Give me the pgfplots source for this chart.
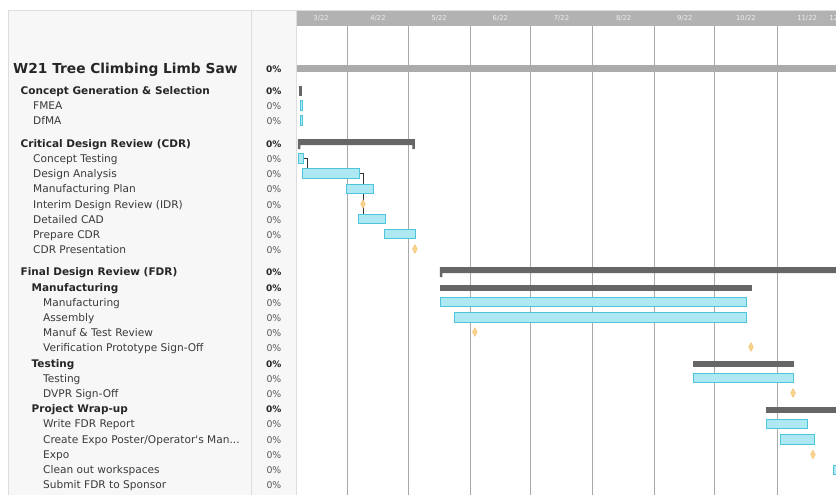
\documentclass[border=0pt]{standalone}
\usepackage{fontspec}
\setmainfont{DejaVu Sans}
\usepackage{pgfplots}
\pgfplotsset{compat=1.18}
\definecolor{taskfill}{HTML}{AEE8F3}
\definecolor{taskdraw}{HTML}{4DC5DA}
\definecolor{sumgrey}{HTML}{666666}
\definecolor{titlegrey}{HTML}{ABABAB}
\definecolor{hdrgrey}{HTML}{B2B2B2}
\definecolor{gridgrey}{HTML}{A8A8A8}
\definecolor{panel}{HTML}{F7F7F7}
\definecolor{panelline}{HTML}{DDDDDD}
\definecolor{msfill}{HTML}{F9D48F}
\definecolor{msdraw}{HTML}{F2C375}
\definecolor{lbl}{HTML}{3A3A3A}
\definecolor{lblb}{HTML}{262626}
\definecolor{pct}{HTML}{555555}
\begin{document}
\begin{tikzpicture}[
  task/.style={fill=taskfill, draw=taskdraw, line width=0.8pt},
  summ/.style={fill=sumgrey, draw=none},
  lab/.style={anchor=base west, text=lbl, font=\fontsize{10.6}{12}\selectfont, inner sep=0pt},
  labb/.style={anchor=base west, text=lblb, font=\fontsize{10.5}{12}\selectfont\bfseries, inner sep=0pt},
  pc/.style={anchor=base east, text=pct, font=\fontsize{9.3}{11}\selectfont, inner sep=0pt},
  pcb/.style={anchor=base east, text=lblb, font=\fontsize{9}{11}\selectfont\bfseries, inner sep=0pt},
  mon/.style={anchor=base, text=white!93!black, font=\fontsize{6.8}{8}\selectfont, inner sep=0pt}
]
\begin{axis}[
  name=ax, at={(0pt,0pt)}, anchor=south west,
  scale only axis, width=539pt, height=484pt,
  xmin=5.6, xmax=274.4, ymin=11, ymax=495, y dir=reverse,
  axis line style={draw=none}, tick style={draw=none},
  xtick={31,61,92,122,153,184,214,245}, xticklabels={}, ytick=\empty,
  xmajorgrids, major grid style={gridgrey, line width=0.9pt},
  clip mode=individual,
]
% header band
\addplot[fill=hdrgrey, draw=none] coordinates {(5.6,11) (274.4,11) (274.4,26) (5.6,26)} --cycle;
% project bar
\addplot[fill=titlegrey, draw=none] coordinates {(5.6,65) (290,65) (290,72) (5.6,72)} --cycle;
% Concept Generation & Selection
\addplot[summ] coordinates {(6.56,86) (8.06,86) (8.06,96) (6.56,96)} --cycle;
\addplot[task] coordinates {(7.06,100) (8.06,100) (8.06,110) (7.06,110)} --cycle;
\addplot[task] coordinates {(7.06,115) (8.06,115) (8.06,125) (7.06,125)} --cycle;
% CDR
\addplot[summ] coordinates {(6.06,139) (64.4,139) (64.4,149) (63.2,149) (63.2,145) (7.3,145) (7.3,149) (6.06,149)} --cycle;
% connectors
\addplot[draw=black!80, line width=0.7pt] coordinates {(8.56,158) (10.55,158) (10.55,168.7)};
\addplot[draw=black!80, line width=0.7pt] coordinates {(36.49,173.3) (38.5,173.3) (38.5,184)};
\addplot[draw=black!80, line width=0.7pt] coordinates {(38.5,193) (38.5,214)};
\addplot[task] coordinates {(6.06,153) (8.56,153) (8.56,163) (6.06,163)} --cycle;
\addplot[task] coordinates {(8.06,168.7) (36.49,168.7) (36.49,178) (8.06,178)} --cycle;
\addplot[task] coordinates {(30.0,184) (43.47,184) (43.47,193) (30.0,193)} --cycle;
\addplot[task] coordinates {(35.99,214) (49.45,214) (49.45,223) (35.99,223)} --cycle;
\addplot[task] coordinates {(48.96,229) (64.42,229) (64.42,238) (48.96,238)} --cycle;
% FDR
\addplot[summ] coordinates {(76.9,267) (290,267) (290,273) (78.1,273) (78.1,277) (76.9,277)} --cycle;
\addplot[summ] coordinates {(76.9,285) (232.5,285) (232.5,291) (76.9,291)} --cycle;
\addplot[task] coordinates {(76.9,297) (229.5,297) (229.5,306) (76.9,306)} --cycle;
\addplot[task] coordinates {(83.9,312) (229.5,312) (229.5,322) (83.9,322)} --cycle;
\addplot[summ] coordinates {(203.1,361) (253.4,361) (253.4,367) (203.1,367)} --cycle;
\addplot[task] coordinates {(203.1,373) (253.4,373) (253.4,382) (203.1,382)} --cycle;
\addplot[summ] coordinates {(239.7,407) (290,407) (290,413) (239.7,413)} --cycle;
\addplot[task] coordinates {(239.7,419) (260.1,419) (260.1,428) (239.7,428)} --cycle;
\addplot[task] coordinates {(246.7,434) (263.4,434) (263.4,444) (246.7,444)} --cycle;
\addplot[task] coordinates {(272.9,465) (285,465) (285,474) (272.9,474)} --cycle;
\addplot[task] coordinates {(285,480) (290,480) (290,489) (285,489)} --cycle;
% milestones
\addplot[only marks, mark=diamond*, mark size=4.3pt, mark options={xscale=0.72, fill=msfill, draw=msdraw, line width=0.5pt}]
  coordinates {(38.5,204) (64.4,249) (94.3,332) (232.0,347) (253.0,393) (262.9,454.5)};
% month labels
\node[mon] at (axis cs:17.6,21) {3/22};
\node[mon] at (axis cs:46,21) {4/22};
\node[mon] at (axis cs:76.5,21) {5/22};
\node[mon] at (axis cs:107,21) {6/22};
\node[mon] at (axis cs:137.5,21) {7/22};
\node[mon] at (axis cs:168.5,21) {8/22};
\node[mon] at (axis cs:199,21) {9/22};
\node[mon] at (axis cs:229.5,21) {10/22};
\node[mon] at (axis cs:260,21) {11/22};
\node[mon, anchor=base west] at (axis cs:271.05,21) {12/22};
\end{axis}
\begin{scope}[x=1pt, y=-1pt, shift={(-297pt,495pt)}]
\fill[panel] (8,10) rectangle (296.5,495);
\draw[panelline, line width=0.8pt] (8,495) -- (8,10) -- (836,10);
\draw[panelline, line width=0.8pt] (251,10) -- (251,495);
\draw[panelline, line width=0.8pt] (296.5,10) -- (296.5,495);
% labels
\node[anchor=base west, text=lblb, font=\fontsize{13.75}{16}\selectfont\bfseries, inner sep=0pt] at (13,73.3) {W21 Tree Climbing Limb Saw};
\node[labb] at (20.5,94.3) {Concept Generation \& Selection};
\node[lab] at (33,109.5) {FMEA};
\node[lab] at (33,124.7) {DfMA};
\node[labb] at (20.5,147.3) {Critical Design Review (CDR)};
\node[lab] at (33,162.5) {Concept Testing};
\node[lab] at (33,177.7) {Design Analysis};
\node[lab] at (33,192.9) {Manufacturing Plan};
\node[lab] at (33,208.1) {Interim Design Review (IDR)};
\node[lab] at (33,223.3) {Detailed CAD};
\node[lab] at (33,238.5) {Prepare CDR};
\node[lab] at (33,253.7) {CDR Presentation};
\node[labb] at (20.5,275.9) {Final Design Review (FDR)};
\node[labb] at (31.5,291.1) {Manufacturing};
\node[lab] at (43,306.3) {Manufacturing};
\node[lab] at (43,321.5) {Assembly};
\node[lab] at (43,336.7) {Manuf \& Test Review};
\node[lab] at (43,351.9) {Verification Prototype Sign-Off};
\node[labb] at (31.5,367.1) {Testing};
\node[lab] at (43,382.3) {Testing};
\node[lab] at (43,397.5) {DVPR Sign-Off};
\node[labb] at (31.5,412.7) {Project Wrap-up};
\node[lab] at (43,427.9) {Write FDR Report};
\node[lab] at (43,443.1) {Create Expo Poster/Operator\textquotesingle s Man...};
\node[lab] at (43,458.3) {Expo};
\node[lab] at (43,473.5) {Clean out workspaces};
\node[lab] at (43,488.7) {Submit FDR to Sponsor};
% percents
\node[pcb] at (281.5,72.5) {0\%};
\node[pcb] at (281.5,94.3) {0\%};
\node[pc] at (281.5,109.5) {0\%};
\node[pc] at (281.5,124.7) {0\%};
\node[pcb] at (281.5,147.3) {0\%};
\node[pc] at (281.5,162.5) {0\%};
\node[pc] at (281.5,177.7) {0\%};
\node[pc] at (281.5,192.9) {0\%};
\node[pc] at (281.5,208.1) {0\%};
\node[pc] at (281.5,223.3) {0\%};
\node[pc] at (281.5,238.5) {0\%};
\node[pc] at (281.5,253.7) {0\%};
\node[pcb] at (281.5,275.9) {0\%};
\node[pcb] at (281.5,291.1) {0\%};
\node[pc] at (281.5,306.3) {0\%};
\node[pc] at (281.5,321.5) {0\%};
\node[pc] at (281.5,336.7) {0\%};
\node[pc] at (281.5,351.9) {0\%};
\node[pcb] at (281.5,367.1) {0\%};
\node[pc] at (281.5,382.3) {0\%};
\node[pc] at (281.5,397.5) {0\%};
\node[pcb] at (281.5,412.7) {0\%};
\node[pc] at (281.5,427.9) {0\%};
\node[pc] at (281.5,443.1) {0\%};
\node[pc] at (281.5,458.3) {0\%};
\node[pc] at (281.5,473.5) {0\%};
\node[pc] at (281.5,488.7) {0\%};
\end{scope}
\pgfresetboundingbox
\path[use as bounding box] (-297pt,0pt) rectangle (539pt,495pt);
\end{tikzpicture}
\end{document}
